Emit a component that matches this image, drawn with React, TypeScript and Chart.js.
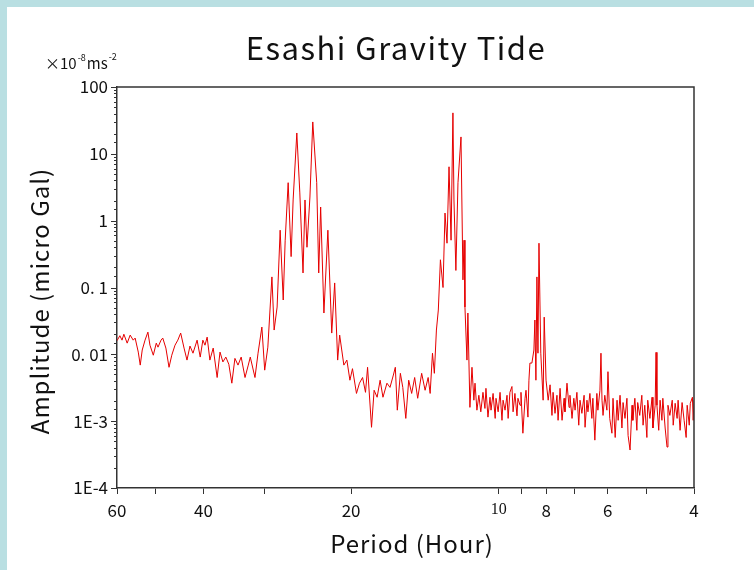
import React, { useEffect, useRef } from "react";
import { Chart, registerables } from "chart.js";

Chart.register(...registerables);

// [period (hour), amplitude (micro Gal)]
const longPeriodBand: [number, number][] = [
  [60, 0.016], [59.2, 0.019], [58.6, 0.0163], [58.1, 0.02], [57.2, 0.0147], [56.4, 0.0194],
  [55.6, 0.0163], [55.1, 0.0175], [54.3, 0.0108], [53.8, 0.0069], [53.3, 0.0116], [52.6, 0.0163],
  [51.9, 0.0215], [51.4, 0.0137], [50.6, 0.0097], [49.9, 0.0147], [49.5, 0.0128], [48.8, 0.0163],
  [48.4, 0.0175], [47.7, 0.0124], [47.0, 0.0064], [46.4, 0.0097], [45.7, 0.0137], [45.1, 0.0163],
  [44.5, 0.0208], [43.8, 0.0124], [43.2, 0.0082], [42.6, 0.0133], [42.0, 0.0104], [41.2, 0.0163],
  [40.6, 0.0091], [40.1, 0.0163], [39.7, 0.0137], [39.3, 0.0181], [38.8, 0.0082], [38.2, 0.0124],
  [37.5, 0.0045], [37.0, 0.0108], [36.5, 0.0077], [36.0, 0.0091], [35.5, 0.0071], [35.0, 0.0037],
  [34.5, 0.0087], [34.0, 0.0069], [33.5, 0.0091], [32.9, 0.0045], [32.4, 0.0069], [32.1, 0.0091],
];

const diurnalBand: [number, number][] = [
  [31.4, 0.0045], [30.95, 0.0104], [30.4, 0.0256], [30.0, 0.0058], [29.56, 0.0128], [29.0, 0.144],
  [28.7, 0.0231], [28.3, 0.051], [27.9, 0.72], [27.5, 0.065], [27.25, 0.51], [26.87, 3.7],
  [26.5, 0.29], [26.25, 2.04], [25.8, 20.5], [25.44, 2.6], [25.06, 0.165], [24.83, 2.04],
  [24.6, 0.4], [24.26, 2.26], [23.94, 30], [23.5, 3.7], [23.28, 0.165], [23.07, 1.6],
  [22.72, 0.0415], [22.3, 0.72], [21.9, 0.0208], [21.6, 0.117], [21.3, 0.0082],
];

const troughOne: [number, number][] = [
  [21.1, 0.0194], [20.69, 0.0069], [20.4, 0.0082], [20.11, 0.0041], [19.87, 0.0061], [19.5, 0.0026],
  [19.23, 0.0037], [18.95, 0.0045], [18.69, 0.0027], [18.51, 0.0064], [18.17, 0.00081], [17.95, 0.0029],
  [17.7, 0.00228], [17.45, 0.0041], [17.22, 0.00228], [16.9, 0.0037], [16.66, 0.0032], [16.4, 0.0049],
  [16.25, 0.0064], [16.1, 0.00146], [15.87, 0.0052], [15.69, 0.0032], [15.47, 0.0011], [15.26, 0.0041],
  [15.05, 0.0026], [14.84, 0.0045], [14.63, 0.0022], [14.36, 0.0052], [14.13, 0.0029], [13.93, 0.0045],
  [13.8, 0.0026], [13.65, 0.0104], [13.53, 0.0052],
];

const semidiurnalBand: [number, number][] = [
  [13.4, 0.0231], [13.28, 0.046], [13.15, 0.26], [12.99, 0.1], [12.87, 1.3], [12.75, 0.46],
  [12.63, 6.4], [12.51, 0.51], [12.4, 41], [12.34, 2.04], [12.23, 0.18], [12.11, 3.7],
  [11.94, 17.9], [11.83, 0.13], [11.77, 0.51], [11.72, 0.051], [11.61, 0.0082], [11.56, 0.0415],
  [11.45, 0.00161], [11.34, 0.0064],
];

const troughTwo: [number, number][] = [
  [11.24, 0.00206], [11.18, 0.0037], [11.08, 0.00146], [10.98, 0.00244], [10.88, 0.00138], [10.77, 0.0027],
  [10.67, 0.00155], [10.62, 0.0031], [10.52, 0.00115], [10.42, 0.00228], [10.37, 0.00146], [10.27, 0.0026],
  [10.17, 0.0011], [10.13, 0.0022], [10.03, 0.00138], [9.94, 0.0027], [9.85, 0.00103], [9.8, 0.00206],
  [9.71, 0.00146], [9.62, 0.00244], [9.57, 0.0011], [9.49, 0.0027], [9.4, 0.0033], [9.35, 0.00138],
  [9.27, 0.0026], [9.18, 0.0012], [9.14, 0.0022], [9.05, 0.00173], [9.01, 0.0027], [8.93, 0.00066],
  [8.84, 0.0022], [8.8, 0.0029], [8.72, 0.00115], [8.68, 0.0041], [8.64, 0.0074],
];

const terdiurnalBand: [number, number][] = [
  [8.56, 0.0074], [8.48, 0.0116], [8.44, 0.0326], [8.4, 0.0041], [8.36, 0.144], [8.32, 0.0104],
  [8.28, 0.46], [8.21, 0.0104], [8.12, 0.00206], [8.08, 0.036], [8.01, 0.0041], [7.93, 0.00206],
];

const shortPeriodBand: [number, number][] = [
  [7.86, 0.0035], [7.79, 0.00122], [7.75, 0.0027], [7.68, 0.00131], [7.61, 0.00244], [7.57, 0.00103],
  [7.5, 0.0031], [7.43, 0.00103], [7.36, 0.0022], [7.33, 0.00138], [7.26, 0.0037], [7.19, 0.00161],
  [7.16, 0.00244], [7.09, 0.0011], [7.03, 0.0022], [6.99, 0.00146], [6.93, 0.0027], [6.87, 0.00087],
  [6.83, 0.00206], [6.77, 0.00131], [6.7, 0.00244], [6.67, 0.00081], [6.61, 0.00206], [6.58, 0.00138],
  [6.52, 0.0026], [6.46, 0.0011], [6.43, 0.0022], [6.37, 0.00052], [6.31, 0.0026], [6.28, 0.00146],
  [6.22, 0.0029], [6.19, 0.0104], [6.16, 0.00206], [6.13, 0.00122], [6.08, 0.00244], [6.02, 0.00146],
  [5.99, 0.0055], [5.94, 0.0011], [5.88, 0.00066], [5.85, 0.0022], [5.79, 0.00057], [5.74, 0.00206],
  [5.71, 0.00103], [5.66, 0.00244], [5.61, 0.00079], [5.58, 0.0019], [5.53, 0.0011], [5.48, 0.0022],
  [5.45, 0.00061], [5.4, 0.00037], [5.35, 0.00173], [5.33, 0.00103], [5.28, 0.0022], [5.23, 0.00073],
  [5.21, 0.0019], [5.16, 0.00122], [5.11, 0.00244], [5.08, 0.00087], [5.04, 0.00173], [4.99, 0.00057],
  [4.97, 0.00206], [4.92, 0.0011], [4.87, 0.00228], [4.85, 0.00079], [4.8, 0.00173], [4.78, 0.0107],
  [4.76, 0.00173], [4.72, 0.00073], [4.69, 0.00206], [4.65, 0.00103], [4.63, 0.0022], [4.58, 0.00079],
  [4.54, 0.00041], [4.52, 0.00173], [4.48, 0.00122], [4.43, 0.00206], [4.41, 0.00087], [4.37, 0.00185],
  [4.33, 0.0011], [4.31, 0.00206], [4.27, 0.00073], [4.23, 0.0019], [4.19, 0.00103], [4.15, 0.00057],
  [4.13, 0.00173], [4.09, 0.00087], [4.07, 0.00185], [4.03, 0.00228], [4.015, 0.00103], [4.0, 0.00206],
];

const xTickValues = [60, 50, 40, 30, 20, 10, 9, 8, 7, 6, 5, 4];
const xTickLabels: Record<number, string> = { 60: "60", 40: "40", 20: "20", 10: "10", 8: "8", 6: "6", 4: "4" };
const yTickLabels: Record<number, string> = { 2: "100", 1: "10", 0: "1", [-1]: "0. 1", [-2]: "0. 01", [-3]: "1E-3", [-4]: "1E-4" };

const titleText = "Esashi Gravity Tide";
const xTitle = "Period (Hour)";
const yTitle = "Amplitude (micro Gal)";

const SANS = '"Noto Sans CJK JP", "Noto Sans", sans-serif';

function yLabel(v: number): string {
  const e = Math.log10(v);
  const r = Math.round(e);
  if (Math.abs(e - r) < 1e-6 && yTickLabels[r] !== undefined) return yTickLabels[r];
  return "";
}

export default function App() {
  const ref = useRef<HTMLCanvasElement>(null);
  useEffect(() => {
    const all = [
      ...longPeriodBand, ...diurnalBand, ...troughOne, ...semidiurnalBand,
      ...troughTwo, ...terdiurnalBand, ...shortPeriodBand,
    ].map(([x, y]) => ({ x, y }));

    const decor = {
      id: "decor",
      beforeDraw(chart: any) {
        const ctx = chart.ctx;
        ctx.save();
        ctx.fillStyle = "#ffffff";
        ctx.fillRect(0, 0, chart.width, chart.height);
        ctx.fillStyle = "#b9dfe2";
        ctx.fillRect(0, 0, chart.width, 7);
        ctx.fillRect(0, 0, 7, chart.height);
        ctx.restore();
      },
      afterDraw(chart: any) {
        const ctx = chart.ctx;
        const a = chart.chartArea;
        const ys = chart.scales.y;
        ctx.save();
        ctx.strokeStyle = "#333";
        ctx.lineWidth = 1.5;
        ctx.beginPath();
        ctx.moveTo(a.left, a.top);
        ctx.lineTo(a.right, a.top);
        ctx.lineTo(a.right, a.bottom);
        ctx.stroke();
        ctx.lineWidth = 1;
        ys.ticks.forEach((t: any) => {
          const p = Math.round(ys.getPixelForValue(t.value)) + 0.5;
          const len = yLabel(t.value) ? 6 : 3;
          ctx.beginPath();
          ctx.moveTo(a.left - len, p);
          ctx.lineTo(a.left, p);
          ctx.stroke();
        });
        ctx.fillStyle = "#111";
        ctx.textAlign = "center";
        ctx.textBaseline = "middle";
        (ctx as any).letterSpacing = "1.5px";
        ctx.font = `31px ${SANS}`;
        ctx.fillText(titleText, 396, 48);
        (ctx as any).letterSpacing = "1px";
        ctx.font = `24px ${SANS}`;
        ctx.fillText(xTitle, 412, 544);
        ctx.save();
        ctx.translate(40, 301);
        ctx.rotate(-Math.PI / 2);
        ctx.fillText(yTitle, 0, 0);
        ctx.restore();
        (ctx as any).letterSpacing = "0px";
        ctx.textAlign = "left";
        ctx.textBaseline = "alphabetic";
        ctx.font = `15px ${SANS}`;
        ctx.fillText("×10", 45, 69);
        const w = ctx.measureText("×10").width;
        ctx.font = `9px ${SANS}`;
        ctx.fillText("-8", 45 + w + 1, 61);
        const w2 = ctx.measureText("-8").width;
        ctx.font = `15px ${SANS}`;
        ctx.fillText("ms", 45 + w + w2 + 2, 69);
        const w3 = ctx.measureText("ms").width;
        ctx.font = `9px ${SANS}`;
        ctx.fillText("-2", 45 + w + w2 + w3 + 3, 60);
        ctx.restore();
      },
    };

    const chart = new Chart(ref.current as HTMLCanvasElement, {
      type: "line",
      data: {
        datasets: [
          {
            data: all,
            borderColor: "#e60000",
            borderWidth: 1,
            pointRadius: 0,
            fill: false,
            tension: 0,
          },
        ],
      },
      options: {
        responsive: false,
        animation: false,
        events: [],
        layout: { padding: { left: 0, top: 87, right: 60, bottom: 22 } },
        plugins: { legend: { display: false }, tooltip: { enabled: false }, title: { display: false } },
        scales: {
          x: {
            type: "logarithmic",
            reverse: true,
            min: 4,
            max: 60,
            afterBuildTicks: (s: any) => {
              s.ticks = xTickValues.map((v) => ({ value: v }));
            },
            afterFit: (s: any) => {
              s.height = 60;
            },
            ticks: {
              autoSkip: false,
              maxRotation: 0,
              minRotation: 0,
              padding: 6,
              color: "#111",
              callback: (v: any) => xTickLabels[Number(v)] ?? "",
              font: (c: any) =>
                c.tick && c.tick.value === 10
                  ? { family: '"Liberation Serif", serif', size: 16 }
                  : { family: SANS, size: 17 },
            },
            grid: { drawOnChartArea: false, tickLength: 6, color: "#333", tickColor: "#333" },
            border: { display: true, color: "#333", width: 1.5 },
          },
          y: {
            type: "logarithmic",
            min: 1e-4,
            max: 100,
            afterFit: (s: any) => {
              s.width = 117;
            },
            ticks: {
              autoSkip: false,
              padding: 9,
              color: "#111",
              font: { family: SANS, size: 17 },
              callback: (v: any) => yLabel(Number(v)),
            },
            grid: { drawOnChartArea: false, drawTicks: false, color: "#333" },
            border: { display: true, color: "#333", width: 1.5 },
          },
        },
      } as any,
      plugins: [decor],
    });
    return () => chart.destroy();
  }, []);

  return (
    <div style={{ position: "fixed", left: 0, top: 0, width: 754, height: 570, background: "#fff" }}>
      <canvas ref={ref} width={754} height={570} style={{ display: "block" }} />
    </div>
  );
}
